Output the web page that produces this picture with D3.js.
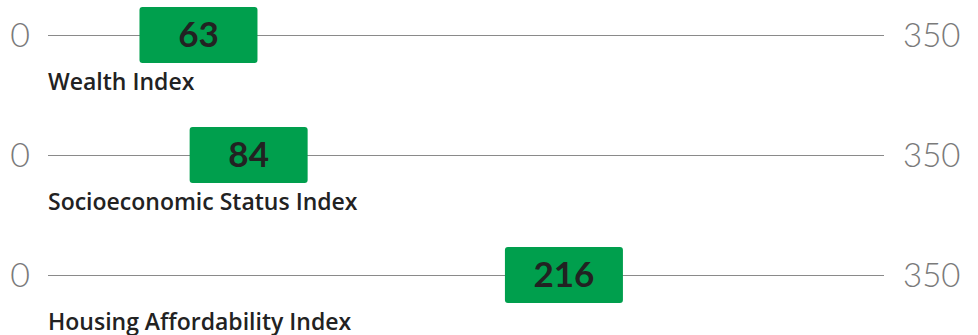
<!DOCTYPE html>
<html>
<head>
<meta charset="utf-8">
<script src="https://cdn.jsdelivr.net/npm/d3@7"></script>
<style>
  html, body { margin: 0; padding: 0; background: #fff; }
  svg { display: block; }
</style>
</head>
<body>
<svg id="chart" width="978" height="335"></svg>
<script>
// Index scores on a 0–350 scale
const indexNames = ["Wealth Index", "Socioeconomic Status Index", "Housing Affordability Index"];
const indexValues = [63, 84, 216];
const scaleDomain = [0, 350];

const width = 978, height = 335;
const svg = d3.select("#chart");

const x = d3.scaleLinear().domain(scaleDomain).range([48, 884]);
const rowY = d3.scalePoint().domain(indexNames).range([35, 275]);

const boxW = 118, boxH = 56;

const rows = svg.selectAll("g.row")
  .data(indexNames.map((name, i) => ({ name, value: indexValues[i] })))
  .join("g")
  .attr("class", "row")
  .attr("transform", d => `translate(0,${rowY(d.name)})`);

// track line
rows.append("line")
  .attr("x1", x(scaleDomain[0]))
  .attr("x2", x(scaleDomain[1]))
  .attr("y1", 0.5).attr("y2", 0.5)
  .attr("stroke", "#8a8a8a")
  .attr("stroke-width", 1);

// min / max labels
rows.append("text")
  .attr("x", x(scaleDomain[0]) - 18)
  .attr("y", 12)
  .attr("text-anchor", "end")
  .attr("font-family", "Lato, sans-serif")
  .attr("font-weight", 300)
  .attr("font-size", 34)
  .attr("fill", "#7a7a7a")
  .text(scaleDomain[0]);

rows.append("text")
  .attr("x", x(scaleDomain[1]) + 19)
  .attr("y", 12)
  .attr("text-anchor", "start")
  .attr("font-family", "Lato, sans-serif")
  .attr("font-weight", 300)
  .attr("font-size", 33)
  .attr("fill", "#7a7a7a")
  .text(scaleDomain[1]);

// value marker
rows.append("rect")
  .attr("x", d => x(d.value) - boxW / 2)
  .attr("y", -28)
  .attr("width", boxW)
  .attr("height", boxH)
  .attr("rx", 3)
  .attr("fill", "#009f4d");

rows.append("text")
  .attr("x", d => x(d.value))
  .attr("y", 12)
  .attr("text-anchor", "middle")
  .attr("font-family", "Lato, sans-serif")
  .attr("font-weight", 700)
  .attr("font-size", 35)
  .attr("fill", "#222")
  .text(d => d.value);

// index name
rows.append("text")
  .attr("x", 48)
  .attr("y", 55)
  .attr("font-family", "'Open Sans', sans-serif")
  .attr("font-weight", 600)
  .attr("font-size", 23)
  .attr("fill", "#222")
  .text(d => d.name);
</script>
</body>
</html>
